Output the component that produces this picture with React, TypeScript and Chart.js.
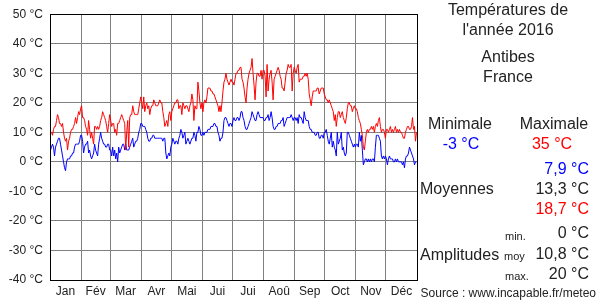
import React, { useEffect, useRef } from "react";
import { Chart, registerables } from "chart.js";

Chart.register(...registerables);

const monthLabels = ["Jan", "Fév", "Mar", "Avr", "Mai", "Jui", "Jui", "Aoû", "Sep", "Oct", "Nov", "Déc"];
const monthDays = [31, 29, 31, 30, 31, 30, 31, 31, 30, 31, 30, 31];
const yMin = -40;
const yMax = 50;
const yStep = 10;

// Daily maximum temperatures (°C), 2016
const janMax = [10, 10, 9, 11, 12, 12, 14, 16, 15, 13, 13, 12, 13, 10, 8, 7, 8, 4, 7, 8, 10, 11, 11, 12, 13, 15, 13, 15, 17, 16, 18];
const febMax = [19, 15, 15, 14, 12, 11, 9, 14, 11, 8, 10, 8, 6, 12, 12, 11, 12, 11, 12, 14, 15, 17, 16, 15, 14, 12, 10, 13, 16];
const marMax = [14, 12, 13, 13, 10, 11, 9, 13, 13, 14, 15, 16, 15, 14, 13, 4, 10, 14, 5, 15, 16, 16, 19, 17, 16, 16, 16, 16, 18, 20, 22];
const aprMax = [20, 18, 22, 17, 19, 20, 18, 19, 16, 18, 19, 19, 21, 20, 19, 19, 19, 20, 21, 20, 20, 17, 15, 12, 13, 14, 12, 16, 17, 14];
const mayMax = [17, 18, 19, 20, 20, 21, 21, 18, 19, 19, 16, 20, 19, 18, 19, 19, 18, 17, 19, 20, 23, 21, 14, 19, 18, 18, 27, 24, 20, 18, 20];
const junMax = [17, 20, 21, 20, 22, 25, 25, 25, 24, 24, 23, 23, 22, 21, 20, 19, 17, 19, 17, 20, 24, 27, 28, 30, 28, 27, 26, 27, 28, 27];
const julMax = [27, 26, 28, 30, 30, 31, 31, 32, 32, 28, 27, 25, 22, 20, 25, 28, 30, 31, 32, 35, 30, 26, 21, 27, 30, 30, 29, 29, 31, 28, 31];
const augMax = [31, 29, 22, 33, 24, 28, 30, 31, 27, 21, 28, 29, 30, 31, 32, 31, 29, 28, 25, 25, 24, 27, 30, 31, 33, 32, 32, 33, 24, 30, 32];
const sepMax = [31, 30, 32, 33, 27, 28, 28, 28, 29, 29, 30, 29, 30, 28, 23, 21, 19, 22, 24, 24, 24, 24, 25, 25, 23, 24, 25, 25, 25, 23];
const octMax = [22, 21, 21, 20, 21, 20, 19, 18, 17, 14, 16, 12, 15, 17, 17, 15, 16, 17, 15, 14, 13, 15, 18, 20, 20, 19, 19, 17, 18, 19, 18];
const novMax = [18, 17, 15, 14, 13, 11, 9, 5, 4, 7, 10, 11, 10, 11, 11, 12, 11, 12, 10, 12, 13, 12, 14, 15, 12, 10, 11, 11, 10, 8];
const decMax = [11, 11, 10, 11, 12, 10, 11, 10, 11, 12, 10, 11, 10, 11, 10, 10, 9, 8, 8, 10, 11, 12, 12, 11, 11, 12, 15, 11, 12, 7, 10];

// Daily minimum temperatures (°C), 2016
const janMin = [4, 5, 6, 5, 2, 5, 6, 7, 8, 8, 6, 4, 2, 0, -2, -3, 0, 1, 1, 1, 2, 2, 3, 3, 5, 6, 6, 6, 6, 7, 9];
const febMin = [9, 7, 3, 5, 6, 6, 7, 3, 4, 2, 1, 2, 3, 6, 4, 3, 2, 6, 8, 10, 8, 7, 6, 6, 5, 5, 6, 6, 4];
const marMin = [4, 2, 5, 2, 4, 1, 3, 0, 5, 3, 4, 5, 6, 6, 4, 6, 4, 4, 4, 5, 6, 7, 8, 5, 6, 7, 7, 8, 10, 11, 13];
const aprMin = [13, 12, 12, 12, 11, 10, 8, 7, 7, 8, 8, 9, 9, 8, 8, 8, 8, 8, 8, 8, 8, 7, 8, 8, 3, 1, 2, 3, 2, 5];
const mayMin = [6, 8, 7, 6, 7, 7, 6, 8, 9, 11, 10, 8, 9, 10, 6, 7, 8, 7, 6, 7, 8, 8, 10, 9, 7, 10, 10, 12, 11, 9, 9];
const junMin = [10, 9, 10, 10, 10, 11, 11, 11, 12, 12, 12, 13, 13, 12, 12, 10, 9, 7, 8, 8, 10, 14, 15, 15, 14, 13, 12, 13, 13, 12];
const julMin = [14, 15, 14, 14, 15, 15, 14, 15, 17, 17, 15, 14, 12, 11, 11, 12, 13, 14, 15, 17, 16, 15, 14, 14, 16, 17, 16, 15, 15, 15, 15];
const augMin = [14, 14, 15, 15, 16, 14, 15, 17, 15, 12, 11, 11, 12, 12, 13, 13, 13, 14, 14, 15, 12, 13, 14, 15, 15, 15, 15, 16, 15, 14, 15];
const sepMin = [15, 14, 15, 13, 16, 15, 15, 14, 13, 17, 15, 14, 14, 14, 12, 11, 11, 10, 10, 10, 9, 9, 10, 10, 8, 8, 9, 9, 8, 10];
const octMin = [10, 11, 9, 7, 6, 8, 10, 5, 7, 5, 4, 2, 10, 6, 7, 8, 10, 4, 5, 3, 2, 3, 10, 10, 9, 8, 7, 6, 5, 6, 5];
const novMin = [6, 6, 5, 10, 7, 9, 4, -1, 0, 1, 1, 0, 1, 0, 1, 0, 1, 1, 0, 5, 9, 9, 9, 8, 7, 2, 1, 2, 1, 2];
const decMin = [1, -1, 1, 2, 1, 1, 1, 0, 0, 1, 0, 1, 0, 0, 0, 0, -1, 0, -2, 1, 2, 2, 3, 5, 4, 3, 2, 1, -1, 0, 0];

const maxTemps = [janMax, febMax, marMax, aprMax, mayMax, junMax, julMax, augMax, sepMax, octMax, novMax, decMax].flat();
const minTemps = [janMin, febMin, marMin, aprMin, mayMin, junMin, julMin, augMin, sepMin, octMin, novMin, decMin].flat();

const title = ["Températures de", "l'année 2016"];
const place = ["Antibes", "France"];
const statMin = "-3 °C";
const statMax = "35 °C";
const meanMin = "7,9 °C";
const meanAvg = "13,3 °C";
const meanMax = "18,7 °C";
const ampMin = "0 °C";
const ampAvg = "10,8 °C";
const ampMax = "20 °C";
const source = "Source : www.incapable.fr/meteo";

const FONT = "'Liberation Sans', Arial, sans-serif";
const TEXT = "#222";

const boundaries: number[] = [0];
monthDays.forEach((d) => boundaries.push(boundaries[boundaries.length - 1] + d));
const midpoints = monthDays.map((d, i) => boundaries[i] + d / 2);
const totalDays = boundaries[boundaries.length - 1];

const framePlugin = {
  id: "frame",
  afterDatasetsDraw(chart: any) {
    const { ctx, chartArea: a } = chart;
    ctx.save();
    ctx.strokeStyle = "#000";
    ctx.lineWidth = 1;
    const l = Math.round(a.left) + 0.5;
    const t = Math.round(a.top) + 0.5;
    const r = Math.round(a.right) + 0.5;
    const b = Math.round(a.bottom) + 0.5;
    ctx.strokeRect(l, t, r - l, b - t);
    ctx.restore();
  },
};

type LabelProps = {
  x: number;
  y: number;
  text: string;
  align?: "left" | "center" | "right";
  size?: number;
  color?: string;
};

function Label({ x, y, text, align = "center", size = 16, color = TEXT }: LabelProps) {
  const h = 20;
  const style: React.CSSProperties = {
    position: "absolute",
    top: y - h / 2,
    height: h,
    lineHeight: h + "px",
    fontFamily: FONT,
    fontSize: size,
    color,
    whiteSpace: "nowrap",
  };
  if (align === "left") style.left = x;
  else if (align === "right") style.right = 600 - x;
  else {
    style.left = x;
    style.transform = "translateX(-50%)";
  }
  return <div style={style}>{text}</div>;
}

export default function App() {
  const canvasRef = useRef<HTMLCanvasElement | null>(null);

  useEffect(() => {
    if (!canvasRef.current) return;
    const chart = new Chart(canvasRef.current, {
      type: "line",
      data: {
        datasets: [
          {
            label: "Maximale",
            data: maxTemps.map((v, i) => ({ x: i + 0.5, y: v })),
            borderColor: "#ff0000",
            borderWidth: 1,
            pointRadius: 0,
            tension: 0,
            xAxisID: "x",
          },
          {
            label: "Minimale",
            data: minTemps.map((v, i) => ({ x: i + 0.5, y: v })),
            borderColor: "#0000ff",
            borderWidth: 1,
            pointRadius: 0,
            tension: 0,
            xAxisID: "x",
          },
        ],
      },
      options: {
        animation: false,
        responsive: false,
        maintainAspectRatio: false,
        devicePixelRatio: 1,
        layout: { padding: { top: 10, right: 183, bottom: 0, left: 0 } },
        plugins: {
          legend: { display: false },
          tooltip: { enabled: false },
        },
        scales: {
          x: {
            type: "linear",
            position: "bottom",
            min: 0,
            max: totalDays,
            afterBuildTicks: (axis: any) => {
              axis.ticks = boundaries.map((v) => ({ value: v }));
            },
            afterFit: (axis: any) => {
              axis.height = 0;
            },
            ticks: { display: false },
            grid: { color: "#808080", lineWidth: 1, drawTicks: false },
            border: { display: true, color: "#000" },
          },
          xMonths: {
            type: "linear",
            position: "bottom",
            min: 0,
            max: totalDays,
            afterBuildTicks: (axis: any) => {
              axis.ticks = midpoints.map((v) => ({ value: v }));
            },
            afterFit: (axis: any) => {
              axis.height = 20;
            },
            ticks: {
              autoSkip: false,
              maxRotation: 0,
              padding: 4,
              color: TEXT,
              font: { family: FONT, size: 12 },
              callback: (_v: any, i: number) => monthLabels[i],
            },
            grid: { display: false, drawTicks: false },
            border: { display: false },
          },
          y: {
            type: "linear",
            min: yMin,
            max: yMax,
            afterBuildTicks: (axis: any) => {
              const t = [];
              for (let v = yMin; v <= yMax; v += yStep) t.push({ value: v });
              axis.ticks = t;
            },
            afterFit: (axis: any) => {
              axis.width = 50;
            },
            ticks: {
              padding: 7,
              color: TEXT,
              font: { family: FONT, size: 12 },
              callback: (v: any) => `${v} °C`,
            },
            grid: { color: "#808080", lineWidth: 1, drawTicks: false },
            border: { display: true, color: "#000" },
          },
        },
      },
      plugins: [framePlugin],
    });
    return () => chart.destroy();
  }, []);

  return (
    <div style={{ position: "fixed", left: 0, top: 0, width: 600, height: 300, background: "#fff", overflow: "hidden" }}>
      <canvas ref={canvasRef} width={600} height={300} style={{ position: "absolute", left: 0, top: 0, width: 600, height: 300 }} />
      <Label x={508} y={10} text={title[0]} />
      <Label x={508} y={30} text={title[1]} />
      <Label x={508} y={57} text={place[0]} />
      <Label x={508} y={77} text={place[1]} />
      <Label x={460} y={124} text="Minimale" />
      <Label x={554} y={124} text="Maximale" />
      <Label x={461} y={144} text={statMin} color="#0000ff" />
      <Label x={552} y={144} text={statMax} color="#ff0000" />
      <Label x={589} y={169} text={meanMin} align="right" color="#0000ff" />
      <Label x={420} y={189} text="Moyennes" align="left" />
      <Label x={589} y={189} text={meanAvg} align="right" />
      <Label x={589} y={209} text={meanMax} align="right" color="#ff0000" />
      <Label x={505} y={236} text="min." align="left" size={11} />
      <Label x={589} y={233} text={ampMin} align="right" />
      <Label x={420} y={255} text="Amplitudes" align="left" />
      <Label x={504} y={256} text="moy" align="left" size={11} />
      <Label x={589} y={254} text={ampAvg} align="right" />
      <Label x={505} y={276} text="max." align="left" size={11} />
      <Label x={589} y={274} text={ampMax} align="right" />
      <Label x={596} y={293} text={source} align="right" size={12} />
    </div>
  );
}
